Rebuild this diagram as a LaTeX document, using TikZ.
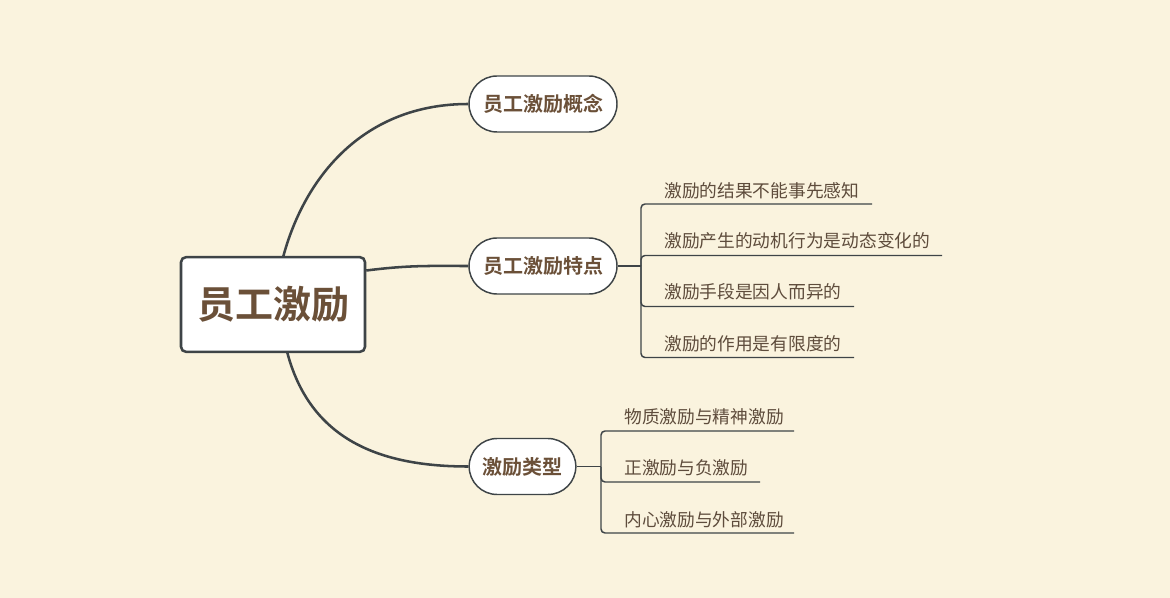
\documentclass[tikz,border=0pt]{standalone}
\usepackage{fontspec}
\newfontfamily\cjk{Noto Sans CJK SC}
\newfontfamily\cjkb{Noto Sans CJK SC Bold}
\definecolor{bg}{HTML}{FAF3DE}
\definecolor{ln}{HTML}{3E4447}
\definecolor{tbrown}{HTML}{6B5038}
\definecolor{lbrown}{HTML}{5E4C3C}
\begin{document}
\begin{tikzpicture}[x=0.75pt,y=-0.75pt,
  rootbox/.style={draw=ln,line width=1.9pt,fill=white,rounded corners=3.75pt,
    minimum width=138pt,minimum height=71pt,inner sep=0pt,text=tbrown,
    font=\cjkb\fontsize{28.5pt}{32pt}\selectfont},
  pill/.style={draw=ln,line width=1.1pt,fill=white,rounded corners=21pt,
    minimum height=42pt,inner sep=0pt,text=tbrown,
    font=\cjkb\fontsize{15pt}{18pt}\selectfont},
  leaf/.style={anchor=west,inner sep=0pt,text=lbrown,
    font=\cjk\fontsize{13.3pt}{16pt}\selectfont},
  mainline/.style={draw=ln,line width=1.9pt},
  stem/.style={draw=ln,line width=1.1pt},
  branch/.style={draw=ln,line width=1.1pt,rounded corners=3pt}]
\fill[bg] (0,0) rectangle (1170,598);
\useasboundingbox (0,0) rectangle (1170,598);

\node[rootbox] (root) at (273,304.5) {员工激励};
\node[pill,minimum width=111pt] (p1) at (543,104) {员工激励概念};
\node[pill,minimum width=111pt] (p2) at (543,266) {员工激励特点};
\node[pill,minimum width=80pt] (p3) at (522.5,466.5) {激励类型};

\draw[mainline] (283,257.5) .. controls (305,175) and (365,104) .. (p1.west);
\draw[mainline] (root.east |- 0,270.5) .. controls (410,265) and (430,266) .. (p2.west);
\draw[mainline] (287,351.5) .. controls (310,440) and (380,466.5) .. (p3.west);

% features
\coordinate (j2) at (641,266);
\coordinate (u1) at (872,204);
\coordinate (u2) at (942,255.5);
\coordinate (u3) at (854,306.5);
\coordinate (u4) at (854,357.5);
\node[leaf] (a1) at (664,190.5) {激励的结果不能事先感知};
\node[leaf] (a2) at (664,241) {激励产生的动机行为是动态变化的};
\node[leaf] (a3) at (664,292) {激励手段是因人而异的};
\node[leaf] (a4) at (664,344) {激励的作用是有限度的};
\draw[stem] (p2.east) -- (j2);
\foreach \u in {u1,u2,u3,u4}
  \draw[branch] (j2) |- (\u);

% types
\coordinate (j3) at (601,466.5);
\coordinate (v1) at (794,431);
\coordinate (v2) at (760,482);
\coordinate (v3) at (794,533);
\node[leaf] (b1) at (624,416.5) {物质激励与精神激励};
\node[leaf] (b2) at (624,467.5) {正激励与负激励};
\node[leaf] (b3) at (624,519.5) {内心激励与外部激励};
\draw[stem] (p3.east) -- (j3);
\foreach \v in {v1,v2,v3}
  \draw[branch] (j3) |- (\v);
\end{tikzpicture}
\end{document}
